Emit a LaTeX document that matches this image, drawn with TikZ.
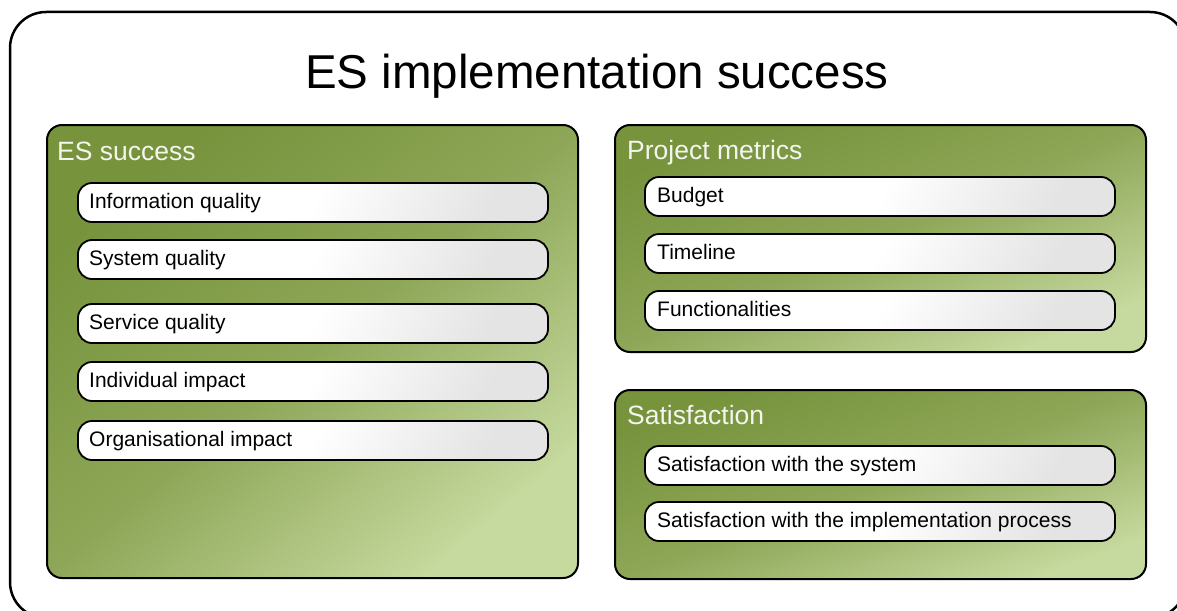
\documentclass[tikz,border=0pt]{standalone}
\usepackage{fontspec}
\setmainfont{Liberation Sans}
\definecolor{gdark}{RGB}{119,147,60}
\definecolor{glight}{RGB}{198,217,158}
\definecolor{pgray}{RGB}{228,228,228}
\definecolor{titlewhite}{RGB}{245,245,240}
\tikzset{
  groupbox/.style={draw=black, line width=2pt, rounded corners=15pt,
    top color=gdark, bottom color=glight, middle color=gdark!72!glight, shading angle=#1},
  pillbox/.style={draw=black, line width=1.8pt, rounded corners=14pt,
    top color=white, bottom color=pgray, middle color=white, shading angle=60},
  pilltext/.style={anchor=base west, inner sep=0pt, font=\fontsize{21}{24}\selectfont, text=black},
  grouptitle/.style={anchor=base west, inner sep=0pt, font=\fontsize{26.5}{30}\selectfont, text=titlewhite},
}
\begin{document}
\begin{tikzpicture}[x=1pt,y=-1pt]
\useasboundingbox (0,0) rectangle (1177,610);
\begin{scope}
\clip (0,0) rectangle (1177,610);
\draw[line width=2.5pt, rounded corners=36pt] (10,12) rectangle (1186,618);
\end{scope}
\node[inner sep=0pt, font=\fontsize{47.5}{52}\selectfont] (title) at (597,76) {ES implementation success};

% ES success group
\shade[groupbox=40] (47,125) rectangle (578,578);
\node[grouptitle] (g1) at (57,160) {ES success};
\foreach \n/\y/\t in {p1/183/Information quality, p2/240/System quality, p3/304/Service quality, p4/362/Individual impact, p5/421/Organisational impact}{
  \shade[pillbox] (78,\y) rectangle (548,\y+39);
  \node[pilltext] (\n) at (89,\y+25.5) {\t};
}

% Project metrics group
\shade[groupbox=23] (615,125) rectangle (1146,352);
\node[grouptitle] (g2) at (627,159.5) {Project metrics};
\foreach \n/\y/\t in {q1/177/Budget, q2/234/Timeline, q3/291/Functionalities}{
  \shade[pillbox] (645,\y) rectangle (1115,\y+39);
  \node[pilltext] (\n) at (657,\y+25.5) {\t};
}

% Satisfaction group
\shade[groupbox=20] (615,390) rectangle (1146,579);
\node[grouptitle] (g3) at (627,424) {Satisfaction};
\foreach \n/\y/\t in {r1/446/Satisfaction with the system, r2/502/Satisfaction with the implementation process}{
  \shade[pillbox] (645,\y) rectangle (1115,\y+39);
  \node[pilltext] (\n) at (657,\y+25.5) {\t};
}
\end{tikzpicture}
\end{document}
